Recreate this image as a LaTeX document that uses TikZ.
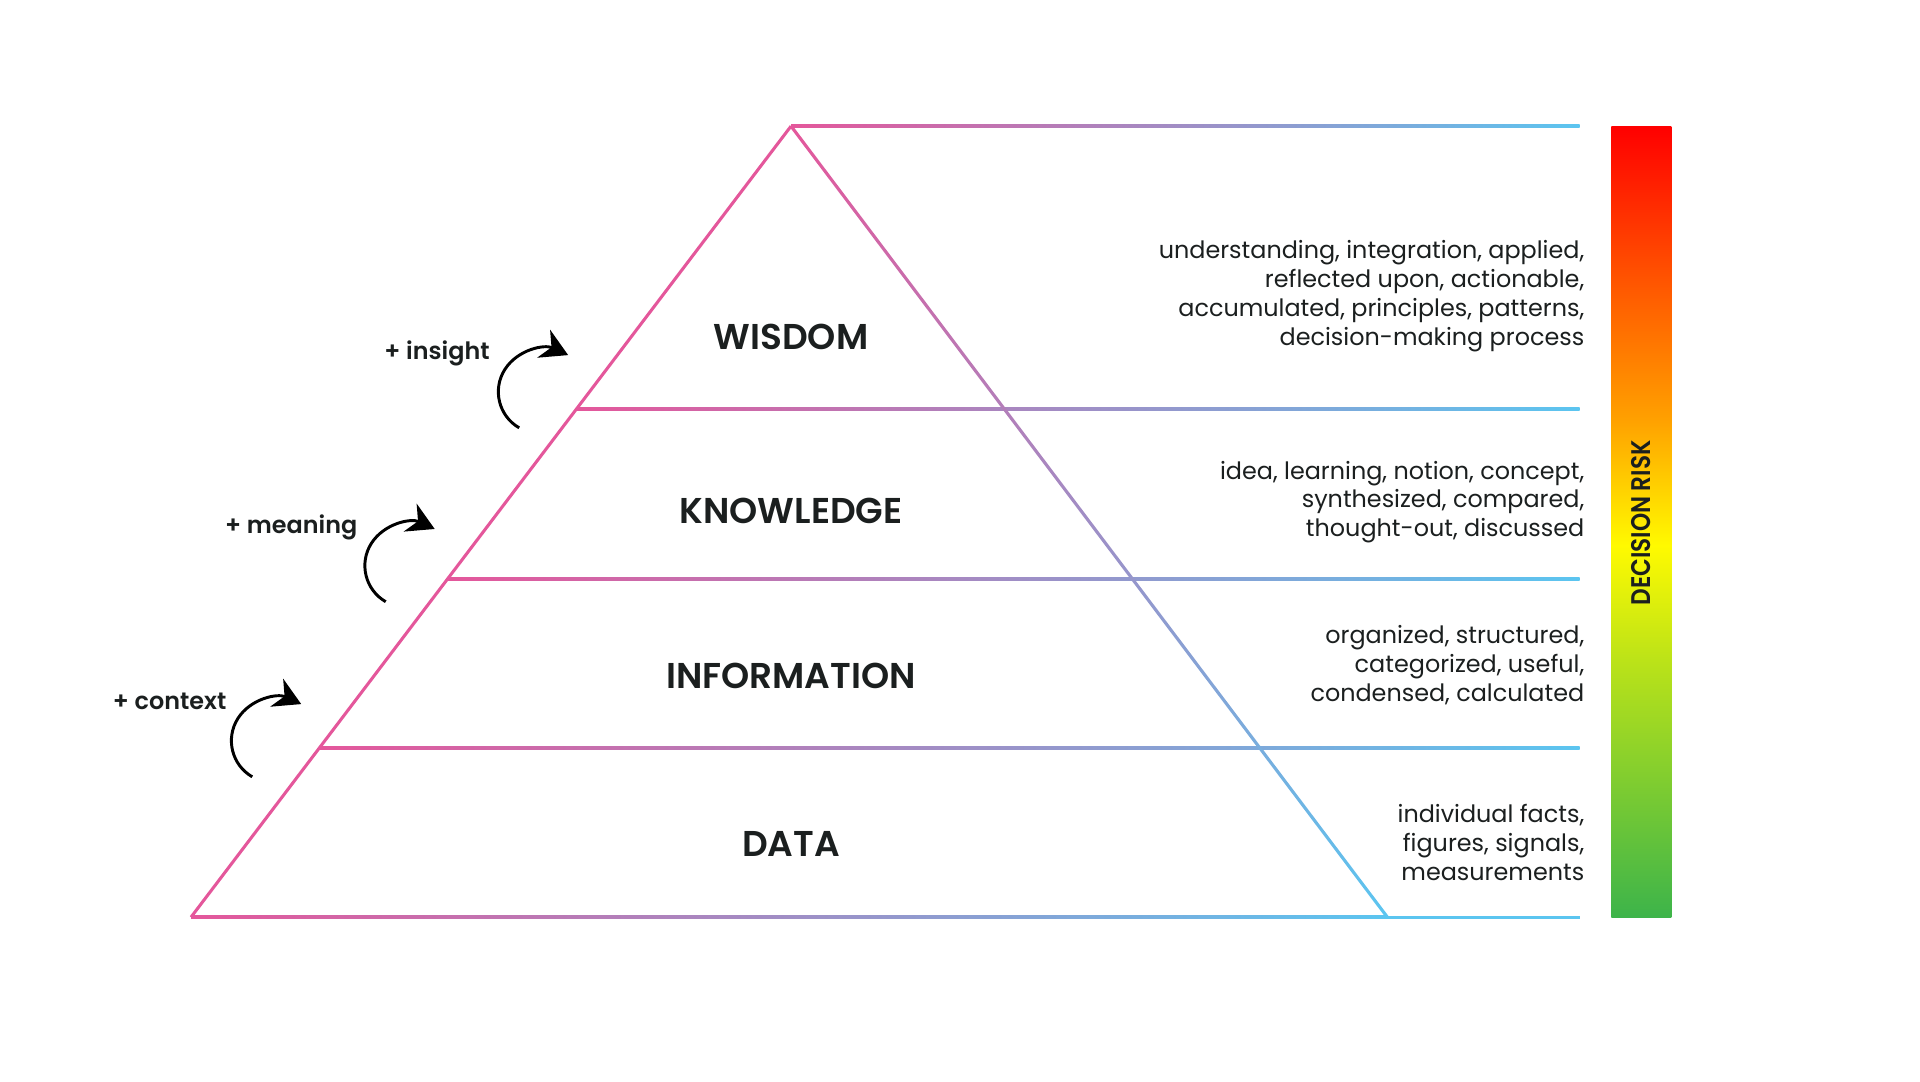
\documentclass[tikz,border=0pt]{standalone}
\usepackage{fontspec}
\setmainfont{Poppins}
\newfontfamily\poppinssemi{Poppins SemiBold}
\newfontfamily\poppinsbold{Poppins Bold}
\usepackage{tikz}
\usetikzlibrary{arrows.meta, positioning, calc}
\definecolor{rosa}{RGB}{228, 87, 155}
\definecolor{celeste}{RGB}{91, 197, 240}
\definecolor{tinta}{RGB}{27, 31, 31}
\definecolor{riesgoverde}{RGB}{61, 180, 74}
\definecolor{riesgolima}{RGB}{185, 226, 25}
\definecolor{riesgoamarillo}{RGB}{255, 250, 0}
\definecolor{riesgonaranja}{RGB}{255, 160, 0}
\definecolor{riesgorojo}{RGB}{255, 0, 0}
\pgfdeclareverticalshading{riesgo}{100bp}{color(0bp)=(riesgoverde); color(25bp)=(riesgoverde);
  color(41bp)=(riesgolima); color(48.5bp)=(riesgoamarillo); color(56.5bp)=(riesgonaranja);
  color(75bp)=(riesgorojo); color(100bp)=(riesgorojo)}

\begin{document}
\begin{tikzpicture}[x=1pt, y=-1pt,
      capa/.style={font=\poppinssemi\fontsize{29.3}{33}\selectfont, text=tinta},
      nota/.style={font=\fontsize{19.5}{23.6}\selectfont, text=tinta, align=right,
                   anchor=east, inner sep=0pt},
      paso/.style={font=\poppinssemi\fontsize{19.5}{22}\selectfont, text=tinta,
                   anchor=east, inner sep=0pt},
      giro/.style={draw=black, line width=2.4pt, -{Stealth[length=22pt, width=25pt, inset=7pt]}}]
      \useasboundingbox (0,0) rectangle (1568,883);
      % Pyramid corners
      \coordinate (apex) at (646,103);
      \coordinate (baseL) at (156,749);
      \coordinate (baseR) at (1133,749);
      % Level lines, pink to blue
      \foreach \y/\xl in {103/646, 334/470.8, 473/365.4, 611/260.7}
        \shade[left color=rosa, right color=celeste] (\xl,\y-1.25) rectangle (1290,\y+1.25);
      \shade[left color=rosa, right color=celeste] (156,749-1.5) rectangle (1133,749+1.5);
      \fill[celeste] (1133,749-1.25) rectangle (1290,749+1.25);
      % Sides
      \draw[rosa, line width=2.5pt] (apex) -- (baseL);
      \shade[top color=rosa, bottom color=celeste] (644.4,103) -- (647.6,103)
        -- (1134.6,749) -- (1131.4,749) -- cycle;
      % Layers
      \node[capa] (wisdom) at (646,275) {WISDOM};
      \node[capa] (knowledge) at (646,417) {KNOWLEDGE};
      \node[capa] (information) at (646,552) {INFORMATION};
      \node[capa] (data) at (646,689) {DATA};
      % Notes
      \node[nota] (wisdomnote) at (1294,242) {understanding, integration, applied,\\
        reflected upon, actionable,\\ accumulated, principles, patterns,\\ decision-making process};
      \node[nota] (knowledgenote) at (1294,410) {idea, learning, notion, concept,\\
        synthesized, compared,\\ thought-out, discussed};
      \node[nota] (informationnote) at (1294,543) {organized, structured,\\
        categorized, useful,\\ condensed, calculated};
      \node[nota] (datanote) at (1294,688) {individual facts,\\ figures, signals,\\ measurements};
      % Steps up
      \node[paso] (insight) at (400,289) {+ insight};
      \node[paso] (meaning) at (292,431) {+ meaning};
      \node[paso] (context) at (185,573) {+ context};
      \foreach \dx/\dy in {0/0, -109/142, -218/285}
        \draw[giro, shift={(\dx,\dy)}] (424,349.4) .. controls (407.2,339.7) and (401.9,318)
          .. (412.3,301.7) .. controls (422.7,285.4) and (444.6,281) .. (464,290);
      % Risk bar
      \shade[shading=riesgo] (1316,103) rectangle (1365,749);
      \node[font=\poppinssemi\fontsize{22}{24}\selectfont, text=tinta, rotate=90]
        (risk) at (1340.5,427) {\scalebox{0.86}[1]{DECISION RISK}};
    \end{tikzpicture}
\end{document}
